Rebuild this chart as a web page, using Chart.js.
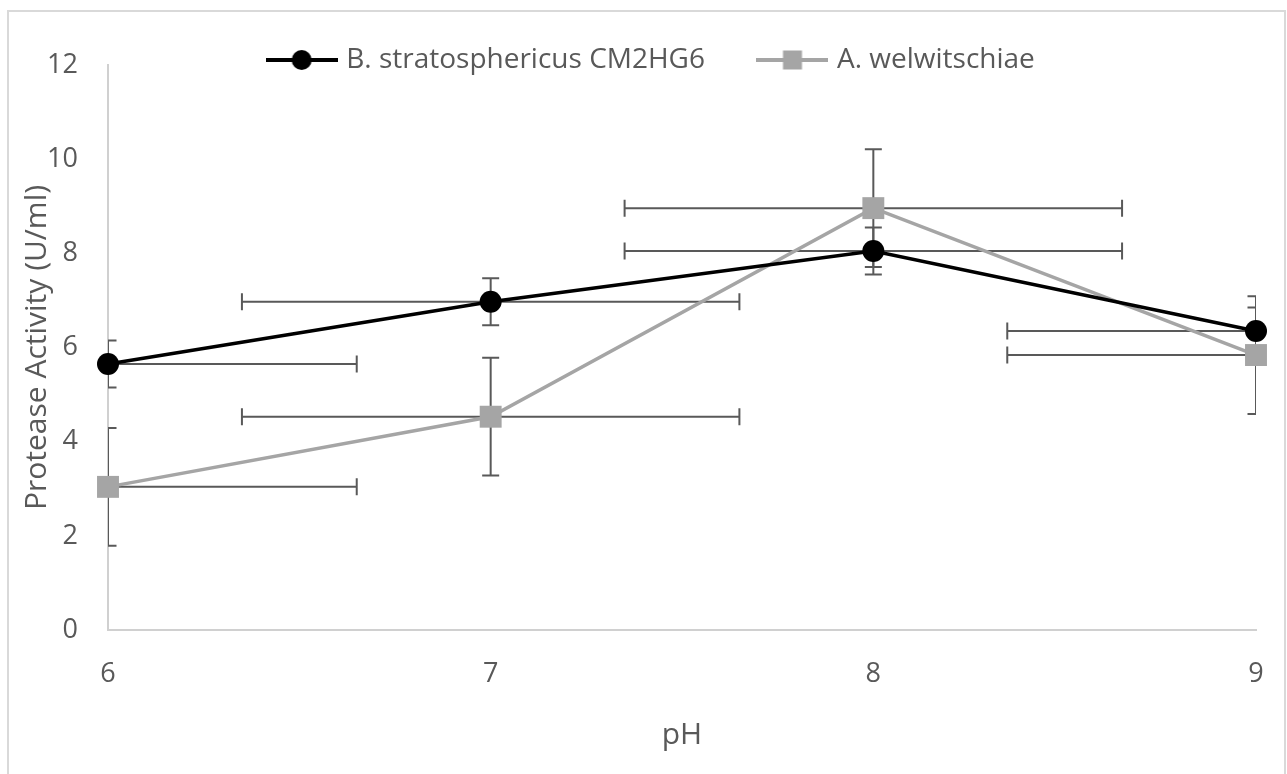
<!DOCTYPE html>
<html>
<head>
<meta charset="utf-8">
<script src="https://cdn.jsdelivr.net/npm/chart.js@4.4.1/dist/chart.umd.min.js"></script>
<style>
html, body { margin: 0; padding: 0; background: #fff; overflow: hidden; }
#frame { position: absolute; left: 7px; top: 10px; width: 1275px; height: 800px; border: 2px solid #d9d9d9; }
#wrap { position: absolute; left: 0; top: 0; width: 1287px; height: 774px; }
</style>
</head>
<body>
<div id="frame"></div>
<div id="wrap"><canvas id="c" width="1287" height="774"></canvas></div>
<script>
// ---- data ----
const phLevels = [6, 7, 8, 9];
const yTicks = [0, 2, 4, 6, 8, 10, 12];
const seriesNames = ['B. stratosphericus CM2HG6', 'A. welwitschiae'];
const stratosphericusActivity = [5.65, 6.97, 8.05, 6.35];
const welwitschiaeActivity = [3.04, 4.53, 8.96, 5.84];
const stratosphericusYErr = [0.5, 0.5, 0.5, 0.5];
const welwitschiaeYErr = [1.25, 1.25, 1.25, 1.25];
const stratosphericusXErr = [0.65, 0.65, 0.65, 0.65];
const welwitschiaeXErr = [0.65, 0.65, 0.65, 0.65];

const TEXT = '#595959';
const FONT = 'Open Sans';

function legendIcon(kind, color) {
  const c = document.createElement('canvas');
  c.width = 72; c.height = 24;
  const g = c.getContext('2d');
  g.strokeStyle = color; g.lineWidth = 4;
  g.beginPath(); g.moveTo(0, 12); g.lineTo(72, 12); g.stroke();
  g.fillStyle = color;
  if (kind === 'circle') { g.beginPath(); g.arc(36, 12, 10, 0, Math.PI * 2); g.fill(); }
  else { g.fillRect(26.5, 2.5, 19, 19); }
  return c;
}
const legendIcons = [legendIcon('circle', '#000000'), legendIcon('rect', '#a5a5a5')];

const errorBars = {
  id: 'errorBars',
  beforeDatasetsDraw(chart) {
    const { ctx, chartArea: a, scales: { x, y } } = chart;
    const errs = [
      { ye: stratosphericusYErr, xe: stratosphericusXErr },
      { ye: welwitschiaeYErr, xe: welwitschiaeXErr }
    ];
    ctx.save();
    ctx.beginPath();
    ctx.rect(a.left, a.top, a.right - a.left, a.bottom - a.top);
    ctx.clip();
    ctx.strokeStyle = '#595959';
    ctx.lineWidth = 2;
    const cap = 8.5;
    chart.data.datasets.forEach((ds, i) => {
      ds.data.forEach((p, j) => {
        const px = x.getPixelForValue(p.x), py = y.getPixelForValue(p.y);
        const yT = y.getPixelForValue(p.y + errs[i].ye[j]);
        const yB = y.getPixelForValue(p.y - errs[i].ye[j]);
        const xL = x.getPixelForValue(p.x - errs[i].xe[j]);
        const xR = x.getPixelForValue(p.x + errs[i].xe[j]);
        ctx.beginPath();
        ctx.moveTo(px, yT); ctx.lineTo(px, yB);
        ctx.moveTo(px - cap, yT); ctx.lineTo(px + cap, yT);
        ctx.moveTo(px - cap, yB); ctx.lineTo(px + cap, yB);
        ctx.moveTo(xL, py); ctx.lineTo(xR, py);
        ctx.moveTo(xL, py - cap); ctx.lineTo(xL, py + cap);
        ctx.moveTo(xR, py - cap); ctx.lineTo(xR, py + cap);
        ctx.stroke();
      });
    });
    ctx.restore();
  }
};

const legendPlacement = {
  id: 'legendPlacement',
  beforeDraw(chart) {
    const lg = chart.legend;
    if (!lg) return;
    const pad = lg.options.labels.padding;
    const fs = lg.options.labels.font.size;
    const w = lg.right - lg.left;
    const top = 60 - pad - fs / 2;
    const cx = 653;
    lg.top = top; lg.bottom = top + fs + 2 * pad + 10;
    lg.height = lg.bottom - lg.top;
    lg.left = cx - w / 2; lg.right = cx + w / 2;
  }
};

Chart.defaults.font.family = FONT;
Chart.defaults.color = TEXT;

new Chart(document.getElementById('c'), {
  type: 'line',
  data: {
    datasets: [
      {
        label: seriesNames[0],
        data: phLevels.map((v, i) => ({ x: v, y: stratosphericusActivity[i] })),
        borderColor: '#000000', backgroundColor: '#000000',
        borderWidth: 3.5, pointStyle: 'circle', pointRadius: 11, pointHoverRadius: 11,
        pointBorderWidth: 0, clip: false, tension: 0
      },
      {
        label: seriesNames[1],
        data: phLevels.map((v, i) => ({ x: v, y: welwitschiaeActivity[i] })),
        borderColor: '#a5a5a5', backgroundColor: '#a5a5a5',
        borderWidth: 3.5, pointStyle: 'rect', pointRadius: 15.5, pointHoverRadius: 15.5,
        pointBorderWidth: 0, clip: false, tension: 0
      }
    ]
  },
  options: {
    responsive: false,
    animation: false,
    devicePixelRatio: 1,
    layout: { padding: { top: 55, right: 31, bottom: 0, left: 0 } },
    plugins: {
      tooltip: { enabled: false },
      legend: {
        position: 'top',
        align: 'center',
        maxHeight: 10,
        labels: {
          usePointStyle: true,
          pointStyleWidth: 61,
          padding: 57,
          color: TEXT,
          font: { family: FONT, size: 28 },
          generateLabels(chart) {
            const items = Chart.defaults.plugins.legend.labels.generateLabels(chart);
            items.forEach(it => { it.pointStyle = legendIcons[it.datasetIndex]; });
            return items;
          }
        }
      }
    },
    scales: {
      x: {
        type: 'linear', min: 6, max: 9,
        afterBuildTicks: s => { s.ticks = phLevels.map(v => ({ value: v })); },
        grid: { display: false, drawTicks: false },
        border: { display: true, color: '#d0d0d0', width: 2 },
        ticks: { color: TEXT, font: { family: FONT, size: 27 }, padding: 28, autoSkip: false, maxRotation: 0 },
        title: { display: true, text: 'pH', color: TEXT, font: { family: FONT, size: 30 }, padding: { top: 0, bottom: 21 } },
        afterFit: s => { s.height = 144; s.paddingLeft = 8; s.paddingRight = 8; }
      },
      y: {
        min: 0, max: 12,
        afterBuildTicks: s => { s.ticks = yTicks.map(v => ({ value: v })); },
        grid: { display: false, drawTicks: false },
        border: { display: true, color: '#d0d0d0', width: 2 },
        ticks: { color: TEXT, font: { family: FONT, size: 27 }, padding: 30 },
        title: { display: true, text: 'Protease Activity (U/ml)', color: TEXT, font: { family: FONT, size: 30 }, padding: { top: 19, bottom: 0 } },
        afterFit: s => { s.width = 108; }
      }
    }
  },
  plugins: [errorBars, legendPlacement]
});
</script>
</body>
</html>
